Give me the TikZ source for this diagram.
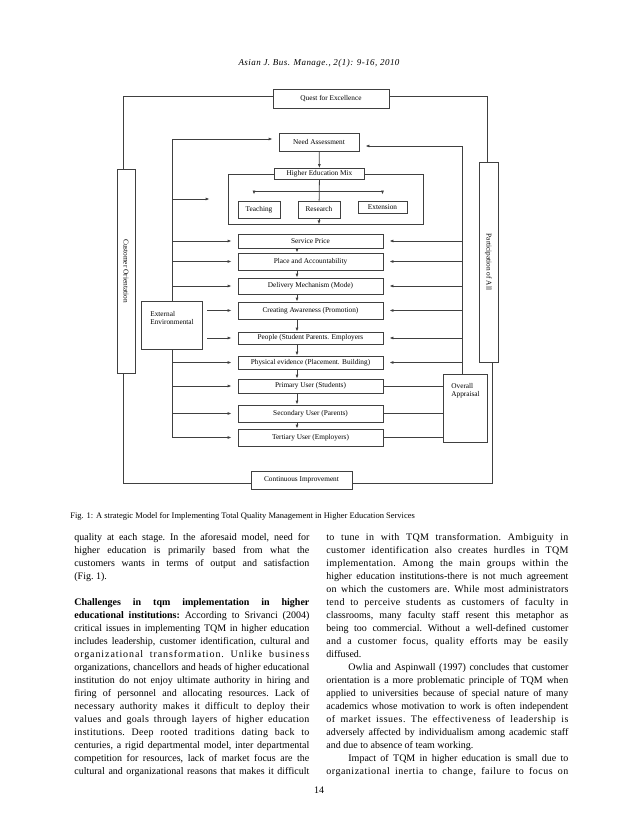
\documentclass[tikz,border=0pt]{standalone}
\usepackage{graphicx}
\usepackage{fontspec}
\setmainfont{Liberation Serif}
\usetikzlibrary{positioning,arrows.meta}

% one justified line of the running text
\newdimen\colw
\newcommand{\jline}[1]{\hbox to \colw{#1}}
\newcommand{\spacedline}[2]{\hbox to \colw{\addfontfeature{LetterSpace=#1}#2}}
\newcommand{\shortline}[1]{\hbox{#1}}

\begin{document}
\begin{tikzpicture}[x=1pt, y=-1pt, >={Latex[length=4pt,width=3pt]},
  line width=0.8pt,
  box/.style={draw=black!75, fill=white, inner sep=1pt,
              font=\fontsize{7.3}{8.5}\selectfont},
  stage/.style={box, minimum width=145},
  link/.style={draw=black!75},
  body/.style={inner sep=0pt, anchor=north west,
               font=\fontsize{10}{13}\selectfont\frenchspacing}]
  \useasboundingbox[fill=white] (0,0) rectangle (638,826);

  \node (header) at (319,63)
    {\fontsize{9}{11}\selectfont\itshape\addfontfeature{LetterSpace=5}%
     Asian J. Bus. Manage., 2(1): 9-16, 2010};

  % outer frame
  \node (quest) [box, minimum width=116, minimum height=19] at (331,98.5)
    {Quest for Excellence};
  \node (custom) [box, minimum width=18, minimum height=204] at (126,271)
    {\rotatebox{-90}{Customer Orientation}};
  \node (partic) [box, minimum width=19, minimum height=200] at (488.5,262)
    {\rotatebox{-90}{Participation of All}};
  \node (contimp) [box, minimum width=101, minimum height=18] at (301.5,480)
    {Continuous Improvement};

  % higher education mix
  \node (need) [box, minimum width=80, minimum height=18] at (319,142)
    {Need Assessment};
  \node (mix) [link, minimum width=195, minimum height=50] at (325.5,199) {};
  \node (hem) [box, minimum width=90, minimum height=11] at (319.5,174)
    {Higher Education Mix};
  \node (teach) [box, minimum width=42, minimum height=17] at (259,209.5)
    {Teaching};
  \node (research) [box, minimum width=42, minimum height=17] at (319,209.5)
    {Research};
  \node (extn) [box, minimum width=49, minimum height=12] at (382.5,207)
    {Extension};
  \coordinate (split) at (319,191);

  % marketing mix stages
  \node (service)   [stage, minimum height=14] at (310.5,241) {Service Price};
  \node (place)     [stage, minimum height=17] at (310.5,261.5) {Place and Accountability};
  \node (delivery)  [stage, minimum height=16] at (310.5,286) {Delivery Mechanism (Mode)};
  \node (creating)  [stage, minimum height=17] at (310.5,310.5) {Creating Awareness (Promotion)};
  \node (people)    [stage, minimum height=12] at (310.5,338) {People (Student Parents. Employers};
  \node (physical)  [stage, minimum height=13] at (310.5,362.5) {Physical evidence (Placement. Building)};
  \node (primary)   [stage, minimum height=14] at (310.5,386) {Primary User (Students)};
  \node (secondary) [stage, minimum height=17] at (310.5,413.5) {Secondary User (Parents)};
  \node (tertiary)  [stage, minimum height=17] at (310.5,437.5) {Tertiary User (Employers)};

  \node (overall) [box, minimum width=44, minimum height=68,
    label={[font=\fontsize{7.3}{8.5}\selectfont, align=left, anchor=north west,
            xshift=5pt, yshift=-6pt]north west:Overall\\Appraisal}] at (465,408) {};

  \coordinate (ltop) at (172,139);
  \coordinate (rtop) at (462,146);

  % frame loop
  \draw[link] ([yshift=2.5pt]quest.west) -| ([xshift=-3pt]custom.north);
  \draw[link] ([yshift=2.5pt]quest.east) -| ([xshift=-1.5pt]partic.north);
  \draw[link] ([xshift=-3pt]custom.south) |- ([yshift=-3pt]contimp.west);
  \draw[link] ([yshift=-3pt]contimp.east) -| ([xshift=3.5pt]partic.south);

  % inside the mix
  \draw[link,->] (need) -- (hem);
  \draw[link] (hem) -- (research);
  \draw[link,->,shorten >=6pt] (split) -| ([xshift=-5pt]teach.north);
  \draw[link,->,shorten >=6pt] (split) -| (extn.north);
  \draw[link,->] (research) -- (research |- mix.south);

  \foreach \a/\b in {service/place,place/delivery,delivery/creating,
      creating/people,people/physical,physical/primary,
      primary/secondary,secondary/tertiary}
    \draw[link,->] ([xshift=-13.5pt]\a.south) -- ([xshift=-13.5pt]\b.north);

  % left feed
  \draw[link,->,shorten >=6pt] (ltop |- tertiary.west) -- (ltop)
    -- ([yshift=3pt]need.west);
  \draw[link,->,shorten >=18pt] (ltop |- mix.west) -- (mix.west);
  \foreach \s in {service,place,delivery,physical,primary,secondary,tertiary}
    \draw[link,->,shorten >=6pt] (ltop |- \s.west) -- (\s.west);

  \node (environ) [box, minimum width=61, minimum height=48,
    label={[font=\fontsize{7.3}{8.5}\selectfont, align=left, anchor=north west,
            xshift=6pt, yshift=-7pt]north west:External\\Environmental}] at (171.5,325) {};
  \foreach \s in {creating,people}
    \draw[link,->,shorten <=5pt,shorten >=6pt] (environ.east |- \s.west) -- (\s.west);

  % right feed
  \draw[link,->,shorten >=6pt] (rtop |- overall.north) -- (rtop)
    -- ([yshift=-4pt]need.east);
  \foreach \s in {service,place,delivery,creating,people,physical}
    \draw[link,->,shorten >=6pt] (rtop |- \s.east) -- (\s.east);
  \foreach \s in {primary,secondary,tertiary}
    \draw[link] (\s.east) -- (overall.west |- \s.east);

  \node (caption) [anchor=west, inner sep=0pt, font=\fontsize{8.5}{10}\selectfont] at (70,516)
    {Fig. 1: A strategic Model for Implementing Total Quality Management in Higher Education Services};

  % running text
  \node (leftcol) [body] at (74,533.5) {\vtop{\colw=235pt
    \jline{quality at each stage. In the aforesaid model, need for}
    \jline{higher education is primarily based from what the}
    \jline{customers wants in terms of output and satisfaction}
    \shortline{(Fig. 1).}
    \vskip 13pt
    \jline{\bfseries Challenges in tqm implementation in higher}
    \jline{\textbf{educational institutions:} According to Srivanci (2004)}
    \jline{critical issues in implementing TQM in higher education}
    \jline{includes leadership, customer identification, cultural and}
    \spacedline{9}{organizational transformation. Unlike business}
    \jline{organizations, chancellors and heads of higher educational}
    \jline{institution do not enjoy ultimate authority in hiring and}
    \jline{firing of personnel and allocating resources. Lack of}
    \spacedline{2}{necessary authority makes it difficult to deploy their}
    \spacedline{3}{values and goals through layers of higher education}
    \spacedline{3}{institutions. Deep rooted traditions dating back to}
    \jline{centuries, a rigid departmental model, inter departmental}
    \jline{competition for resources, lack of market focus are the}
    \jline{cultural and organizational reasons that makes it difficult}}};

  \node (rightcol) [body] at (326,533.5) {\vtop{\colw=242pt
    \spacedline{3}{to tune in with TQM transformation. Ambiguity in}
    \spacedline{3}{customer identification also creates hurdles in TQM}
    \spacedline{3}{implementation. Among the main groups within the}
    \jline{higher education institutions-there is not much agreement}
    \spacedline{2}{on which the customers are. While most administrators}
    \spacedline{3}{tend to perceive students as customers of faculty in}
    \jline{classrooms, many faculty staff resent this metaphor as}
    \jline{being too commercial. Without a well-defined customer}
    \spacedline{3}{and a customer focus, quality efforts may be easily}
    \shortline{diffused.}
    \jline{\hspace{22pt}Owlia and Aspinwall (1997) concludes that customer}
    \jline{orientation is a more problematic principle of TQM when}
    \jline{applied to universities because of special nature of many}
    \jline{academics whose motivation to work is often independent}
    \spacedline{5}{of market issues. The effectiveness of leadership is}
    \jline{adversely affected by individualism among academic staff}
    \shortline{and due to absence of team working.}
    \jline{\hspace{22pt}Impact of TQM in higher education is small due to}
    \spacedline{5}{organizational inertia to change, failure to focus on}}};

  \node (pageno) [font=\fontsize{10}{12}\selectfont] at (319,790) {14};
\end{tikzpicture}
\end{document}
